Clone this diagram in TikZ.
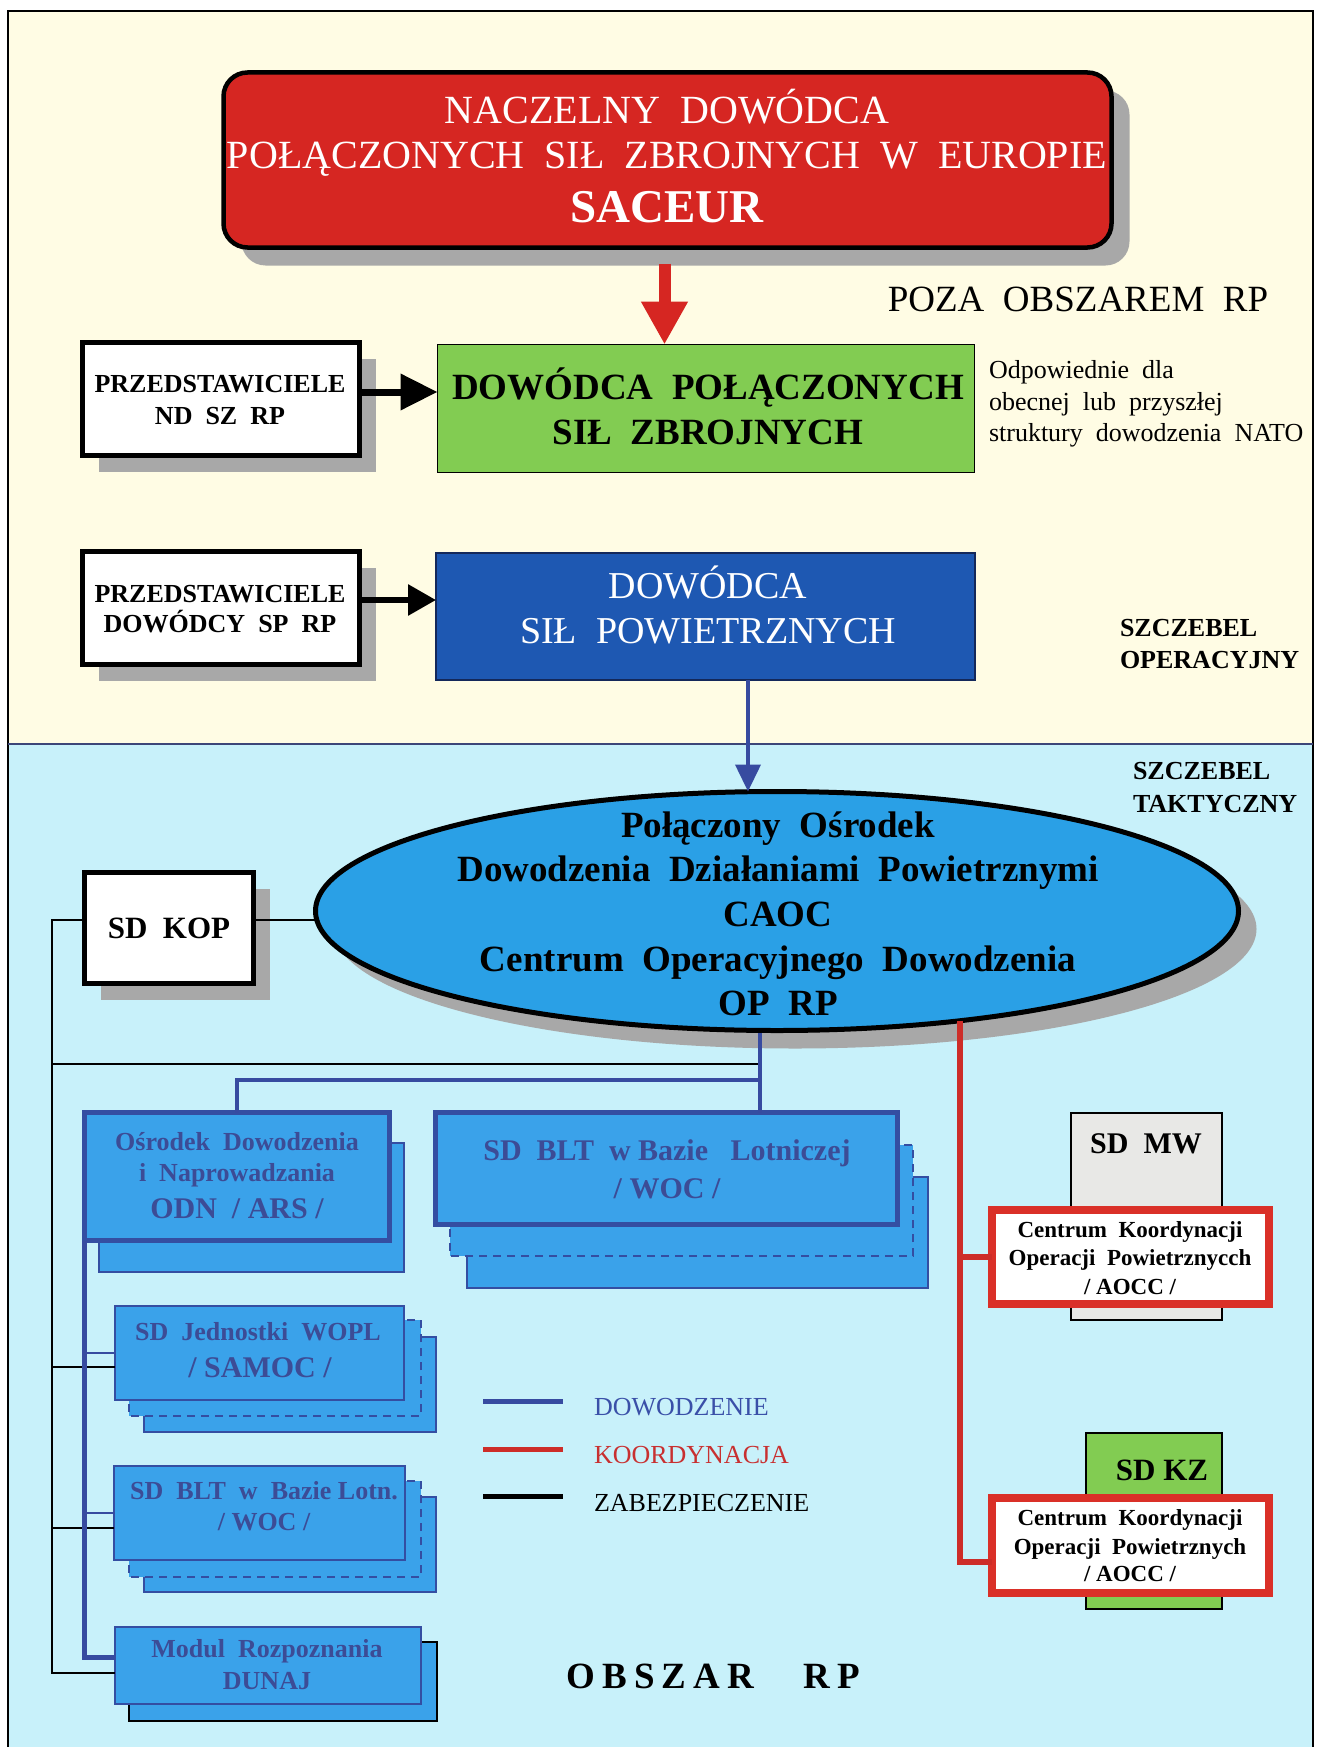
\documentclass[tikz,border=0pt]{standalone}
\usepackage{fontspec}
\setmainfont{Liberation Serif}
\usetikzlibrary{arrows.meta,shadows,shapes.geometric}
\definecolor{cream}{RGB}{255,252,228}
\definecolor{skyc}{RGB}{200,241,250}
\definecolor{nred}{RGB}{214,38,34}
\definecolor{ngreen}{RGB}{130,204,82}
\definecolor{dblue}{RGB}{30,88,178}
\definecolor{eblue}{RGB}{42,160,230}
\definecolor{bbox}{RGB}{58,162,234}
\definecolor{bedge}{RGB}{52,78,162}
\definecolor{btext}{RGB}{60,76,150}
\definecolor{shade}{RGB}{168,168,168}
\definecolor{mwgray}{RGB}{232,232,230}
\definecolor{aoccred}{RGB}{218,48,40}
\definecolor{lblue}{RGB}{55,75,160}
\definecolor{lred}{RGB}{205,45,40}
\definecolor{legblue}{RGB}{58,80,168}
\definecolor{legred}{RGB}{200,48,48}
\newcommand{\setfs}[1]{\fontsize{#1}{#1}\selectfont}
\begin{document}
\begin{tikzpicture}[x=1pt,y=-1pt,
  box/.style={draw=black, inner sep=0pt, outer sep=0pt},
  shA/.style={drop shadow={shadow xshift=18pt,shadow yshift=-18pt,fill=shade,opacity=1}},
  shB/.style={drop shadow={shadow xshift=16pt,shadow yshift=-16pt,fill=shade,opacity=1}},
  txt/.style={inner sep=0pt, outer sep=0pt, anchor=base},
  txtl/.style={inner sep=0pt, outer sep=0pt, anchor=base west},
  bluebox/.style={fill=bbox, draw=bedge, inner sep=0pt, outer sep=0pt},
  backsolid/.style={fill=bbox, draw=bedge, line width=2pt},
  backdash/.style={fill=bbox, draw=bedge, line width=2pt, dash pattern=on 8pt off 6pt},
  btxt/.style={txt, text=btext, font=\setfs{26}\bfseries},
  btxtL/.style={txt, text=btext, font=\setfs{30}\bfseries},
  ktxt/.style={txt, font=\setfs{26}\bfseries},
  ctxt/.style={txt, font=\setfs{23}\bfseries},
  etxt/.style={txt, font=\setfs{37}\bfseries},
  bline/.style={draw=lblue, line width=4.5pt},
  bthin/.style={draw=lblue, line width=2.5pt},
  kline/.style={draw=black, line width=2pt},
  rline/.style={draw=lred, line width=6pt},
  framel/.style={draw=black, line width=1.5pt},
]
\useasboundingbox (0,0) rectangle (1319,1747);
\fill[white] (0,0) rectangle (1319,1747);
\fill[cream] (8,11) rectangle (1313,744);
\fill[skyc] (8,744) rectangle (1313,1747);
\draw[framel] (8,1747) -- (8,11) -- (1313,11) -- (1313,1747);
\draw[draw={rgb,255:red,60;green,70;blue,120}, line width=1.5pt] (8,744) -- (1313,744);

% ---------- top part ----------
\node[box, minimum width=888pt, minimum height=175pt, rounded corners=24pt, fill=nred, line width=4.5pt, shA] (saceur) at (667.5,160) {};
\node[box, minimum width=537pt, minimum height=128pt, fill=ngreen, line width=1.5pt] (dpsz) at (706,408.5) {};
\node[box, minimum width=277pt, minimum height=113pt, fill=white, line width=5pt, shB] (przed1) at (221,399) {};
\node[box, minimum width=277pt, minimum height=113pt, fill=white, line width=5pt, shB] (przed2) at (221,608) {};
\node[box, minimum width=539pt, minimum height=127pt, fill=dblue, draw={rgb,255:red,20;green,40;blue,90}, line width=2pt] (dsp) at (705.5,616.5) {};

\draw[draw=nred, line width=12pt, -{Triangle[length=43pt,width=44pt]}] ([xshift=-3pt,yshift=-16pt]saceur.south) -- ([xshift=-3pt]saceur.south |- dpsz.north);
\draw[draw=black, line width=7pt, -{Triangle[length=37pt,width=35pt]}] ([yshift=7pt]przed1.east) -- ([yshift=7pt]przed1.east -| dpsz.west);
\draw[draw=black, line width=6pt, -{Triangle[length=28pt,width=30pt]}] ([yshift=8pt]przed2.east) -- ([yshift=8pt]przed2.east -| dsp.west);

\node[txt, text=white, font=\setfs{40}] (saceur-1) at (667,124) {NACZELNY~~DOWÓDCA};
\node[txt, text=white, font=\setfs{40}] (saceur-2) at (667,169) {POŁĄCZONYCH~~SIŁ~~ZBROJNYCH~~W~~EUROPIE};
\node[txt, text=white, font=\setfs{47}\bfseries] (saceur-3) at (667,222.5) {SACEUR};
\node[txt, font=\setfs{37}] (poza) at (1078,311) {POZA~~OBSZAREM~~RP};
\node[etxt] (dpsz-1) at (708,399) {DOWÓDCA~~POŁĄCZONYCH};
\node[etxt] (dpsz-2) at (708,444) {SIŁ~~ZBROJNYCH};
\node[ktxt] (przed1-1) at (220,392.5) {PRZEDSTAWICIELE};
\node[ktxt] (przed1-2) at (220,424.5) {ND~~SZ~~RP};
\node[ktxt] (przed2-1) at (220,602) {PRZEDSTAWICIELE};
\node[ktxt] (przed2-2) at (220,632.5) {DOWÓDCY~~SP~~RP};
\node[txt, text=white, font=\setfs{38}] (dsp-1) at (708,598) {DOWÓDCA};
\node[txt, text=white, font=\setfs{38}] (dsp-2) at (708,643) {SIŁ~~POWIETRZNYCH};
\node[txtl, font=\setfs{26}] (odp-1) at (989,378) {Odpowiednie~~dla};
\node[txtl, font=\setfs{26}] (odp-2) at (989,410) {obecnej~~lub~~przyszłej};
\node[txtl, font=\setfs{26}] (odp-3) at (989,441) {struktury~~dowodzenia~~NATO};
\node[txtl, font=\setfs{26}\bfseries] (szop-1) at (1120,636.5) {SZCZEBEL};
\node[txtl, font=\setfs{26}\bfseries] (szop-2) at (1120,668.5) {OPERACYJNY};

% ---------- bottom part ----------
\node[txtl, font=\setfs{26}\bfseries] (szt-1) at (1133,779.5) {SZCZEBEL};
\node[txtl, font=\setfs{26}\bfseries] (szt-2) at (1133,812) {TAKTYCZNY};

\node[ellipse, box, minimum width=923pt, minimum height=239pt, fill=eblue, line width=5pt, shA] (caoc) at (777,911) {};
\node[box, minimum width=169pt, minimum height=111pt, fill=white, line width=5pt, shB] (sdkop) at (169,928) {};

\draw[draw=lblue, line width=4pt, -{Triangle[length=27pt,width=25pt]}] ([xshift=42.5pt]dsp.south) -- ([xshift=42.5pt]dsp.south |- caoc.north);

\node[etxt] (caoc-1) at (778,837) {Połączony~~Ośrodek};
\node[etxt] (caoc-2) at (778,881) {Dowodzenia~~Działaniami~~Powietrznymi};
\node[etxt] (caoc-3) at (778,926) {CAOC};
\node[etxt] (caoc-4) at (778,971) {Centrum~~Operacyjnego~~Dowodzenia};
\node[etxt] (caoc-5) at (778,1015) {OP~~RP};
\node[txt, font=\setfs{31}\bfseries] (sdkop-1) at (169,938) {SD~~KOP};

% stacked blue boxes (back layers)
\draw[backsolid] (99,1143) rectangle (404,1272);
\draw[backsolid] (467,1177) rectangle (928,1288);
\draw[backdash] (450,1145) rectangle (913,1256);
\draw[backsolid] (144,1337) rectangle (436,1432);
\draw[backdash] (129,1320) rectangle (421,1416);
\draw[backsolid] (144,1497) rectangle (436,1592);
\draw[backdash] (129,1481) rectangle (421,1577);
\draw[fill=bbox, draw=black, line width=2.5pt] (129,1642) rectangle (437,1721);

% front blue boxes
\node[bluebox, minimum width=305pt, minimum height=128pt, line width=5pt] (odn) at (237,1176.5) {};
\node[bluebox, minimum width=462pt, minimum height=112pt, line width=5pt] (blt) at (666.5,1168.5) {};
\node[bluebox, minimum width=289pt, minimum height=94pt, line width=2.5pt] (samoc) at (259.5,1353) {};
\node[bluebox, minimum width=291pt, minimum height=94pt, line width=2.5pt] (bltl) at (259.5,1513) {};
\node[bluebox, minimum width=306pt, minimum height=77pt, line width=2.5pt] (dunaj) at (268,1665.5) {};

\node[btxt] (odn-1) at (237,1150.5) {Ośrodek~~Dowodzenia};
\node[btxt] (odn-2) at (237,1181.5) {i~~Naprowadzania};
\node[btxtL] (odn-3) at (237,1218.5) {ODN~~/~ARS~/};
\node[btxtL] (blt-1) at (667,1160) {SD~~BLT~~w~Bazie~~~Lotniczej};
\node[btxtL] (blt-2) at (667,1198) {/~WOC~/};
\node[btxt] (samoc-1) at (258,1340) {SD~~Jednostki~~WOPL};
\node[btxtL] (samoc-2) at (260,1377) {/~SAMOC~/};
\node[btxt] (bltl-1) at (264,1499) {SD~~BLT~~w~~Bazie~Lotn.};
\node[btxt] (bltl-2) at (264,1530.5) {/~WOC~/};
\node[btxt] (dunaj-1) at (267,1657.5) {Modul~~Rozpoznania};
\node[btxt] (dunaj-2) at (267,1689.5) {DUNAJ};

% right side boxes
\node[box, minimum width=151pt, minimum height=207pt, fill=mwgray, line width=2.5pt] (sdmw) at (1146.5,1216.5) {};
\node[box, minimum width=277pt, minimum height=94pt, fill=white, draw=aoccred, line width=8pt] (aoccmw) at (1130.5,1257) {};
\node[box, minimum width=136pt, minimum height=176pt, fill=ngreen, line width=2.5pt] (sdkz) at (1154,1521) {};
\node[box, minimum width=277pt, minimum height=95pt, fill=white, draw=aoccred, line width=8pt] (aocckz) at (1130.5,1545.5) {};

\node[txt, font=\setfs{30}\bfseries] (sdmw-1) at (1146,1153) {SD~~MW};
\node[ctxt] (aoccmw-1) at (1130,1237.5) {Centrum~~Koordynacji};
\node[ctxt] (aoccmw-2) at (1130,1265.5) {Operacji~~Powietrznycch};
\node[ctxt] (aoccmw-3) at (1130,1294.5) {/~AOCC~/};
\node[txt, font=\setfs{31}\bfseries] (sdkz-1) at (1162,1480) {SD KZ};
\node[ctxt] (aocckz-1) at (1130,1525.5) {Centrum~~Koordynacji};
\node[ctxt] (aocckz-2) at (1130,1554.5) {Operacji~~Powietrznych};
\node[ctxt] (aocckz-3) at (1130,1581.5) {/~AOCC~/};

% ---------- connectors ----------
\coordinate (kbus) at (52,1673);
\coordinate (kjoin) at (760,1064);
\coordinate (bsplit) at (760,1080);

\draw[kline] ([yshift=8pt]sdkop.east) -- ([yshift=8pt]sdkop.east -| caoc.west);
\draw[kline] ([yshift=8pt]sdkop.west) -| (kbus) -- (kbus -| dunaj.west);
\draw[kline] (kjoin) -- (kjoin -| kbus);
\draw[kline] ([yshift=-14pt]samoc.west) -- ([yshift=-14pt]samoc.west -| kbus);
\draw[kline] ([yshift=-15pt]bltl.west) -- ([yshift=-15pt]bltl.west -| kbus);

\draw[bline] ([xshift=-17pt,yshift=-2.5pt]caoc.south) -- (bsplit) -- (bsplit |- blt.north);
\draw[bline] (bsplit) -| (odn.north);
\draw[bline] (odn.south west) |- ([yshift=8pt]dunaj.west);
\draw[bthin] (samoc.west) -- (samoc.west -| odn.west);
\draw[bthin] (bltl.west) -- (bltl.west -| odn.west);

\draw[rline] (caoc.-31) |- ([yshift=-16pt]aocckz.west);
\draw[rline] (caoc.-31 |- aoccmw.west) -- (aoccmw.west);

% ---------- legend ----------
\draw[draw=lblue, line width=5pt] (483,1401) -- (563,1401);
\draw[draw=lred, line width=5pt] (483,1449) -- (563,1449);
\draw[draw=black, line width=5pt] (483,1496) -- (563,1496);
\node[txtl, font=\setfs{26}, text=legblue] (leg-1) at (594,1415.5) {DOWODZENIE};
\node[txtl, font=\setfs{26}, text=legred] (leg-2) at (594,1463.5) {KOORDYNACJA};
\node[txtl, font=\setfs{26}] (leg-3) at (594,1511.5) {ZABEZPIECZENIE};

\node[txt, font=\setfs{37}\bfseries] (obszar) at (713.5,1688) {O\hspace{7pt}B\hspace{7pt}S\hspace{7pt}Z\hspace{7pt}A\hspace{7pt}R\hspace{50pt}R\hspace{7pt}P};
\end{tikzpicture}
\end{document}
